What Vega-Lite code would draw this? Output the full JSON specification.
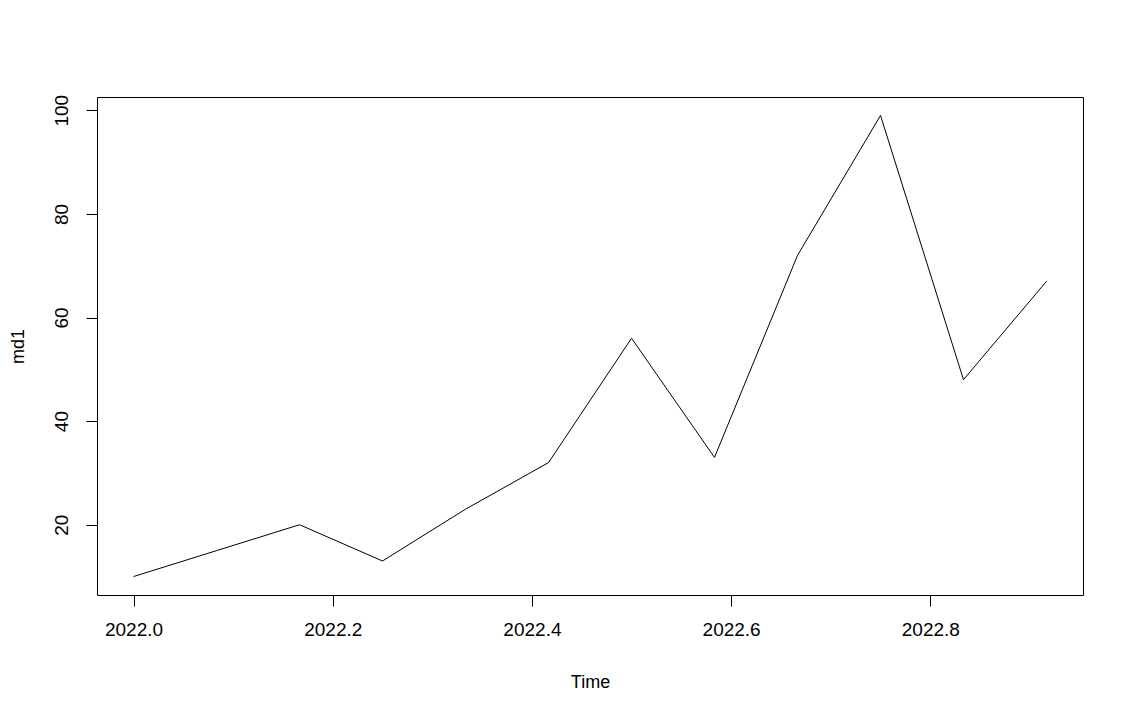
{
  "$schema": "https://vega.github.io/schema/vega-lite/v6.json",
  "width": 986,
  "height": 498,
  "autosize": {"type": "none"},
  "padding": {"left": 97, "top": 97, "right": 50, "bottom": 123},
  "background": "white",
  "config": {
    "view": {"stroke": "black", "strokeWidth": 1},
    "font": "Liberation Sans",
    "axis": {
      "domain": false,
      "grid": false,
      "tickColor": "black",
      "tickSize": 11,
      "tickWidth": 1,
      "labelColor": "black",
      "labelFont": "Liberation Sans",
      "labelFontSize": 19,
      "titleFont": "Liberation Sans",
      "titleFontSize": 18,
      "titleFontWeight": "normal",
      "titleColor": "black"
    }
  },
  "data": {
    "values": [
      {"Time": 2022.0, "md1": 10},
      {"Time": 2022.0833, "md1": 15},
      {"Time": 2022.1667, "md1": 20},
      {"Time": 2022.25, "md1": 13},
      {"Time": 2022.3333, "md1": 23},
      {"Time": 2022.4167, "md1": 32},
      {"Time": 2022.5, "md1": 56},
      {"Time": 2022.5833, "md1": 33},
      {"Time": 2022.6667, "md1": 72},
      {"Time": 2022.75, "md1": 99},
      {"Time": 2022.8333, "md1": 48},
      {"Time": 2022.9167, "md1": 67}
    ]
  },
  "mark": {"type": "line", "color": "black", "strokeWidth": 1},
  "encoding": {
    "x": {
      "field": "Time",
      "type": "quantitative",
      "scale": {"domain": [2021.9633, 2022.9533], "nice": false, "zero": false},
      "axis": {
        "values": [2022.0, 2022.2, 2022.4, 2022.6, 2022.8],
        "format": ".1f",
        "labelPadding": 14,
        "labelBaseline": "top",
        "title": "Time",
        "titlePadding": 34
      }
    },
    "y": {
      "field": "md1",
      "type": "quantitative",
      "scale": {"domain": [6.44, 102.56], "nice": false, "zero": false},
      "axis": {
        "values": [20, 40, 60, 80, 100],
        "labelAngle": -90,
        "labelAlign": "center",
        "labelBaseline": "bottom",
        "labelPadding": 15,
        "title": "md1",
        "titlePadding": 25
      }
    }
  }
}
